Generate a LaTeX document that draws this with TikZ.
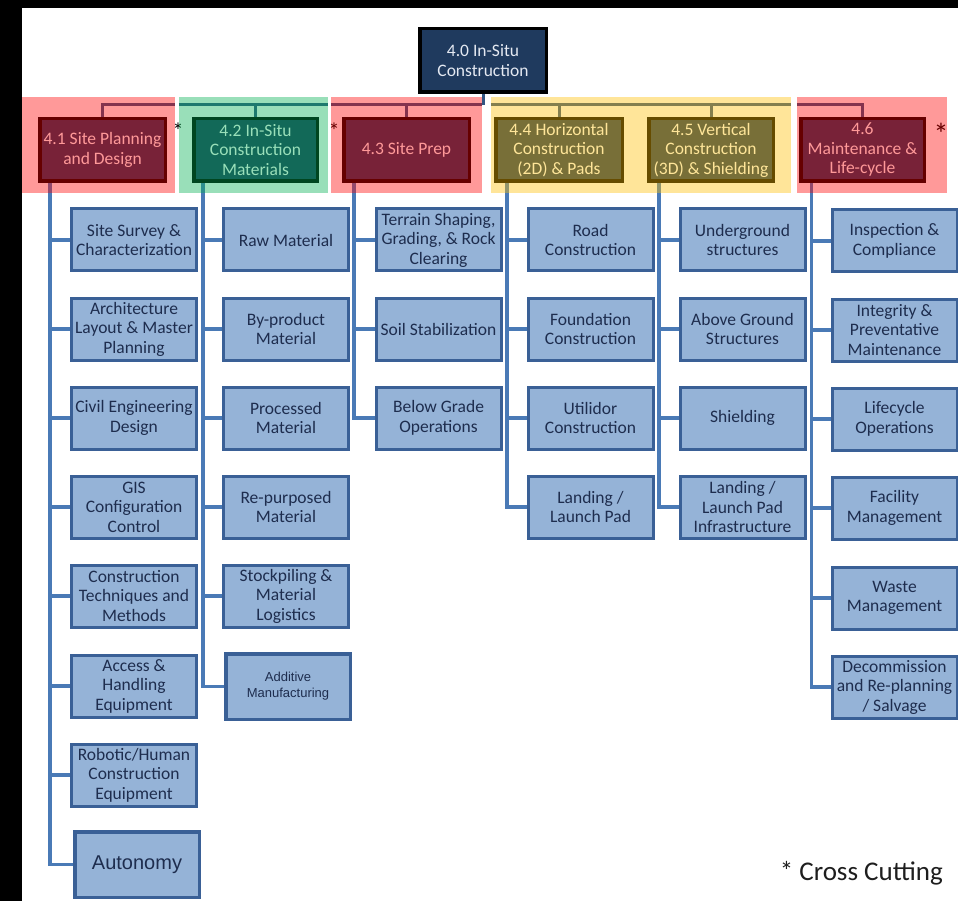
\documentclass[tikz,border=0pt]{standalone}
\usepackage{fontspec}
\setmainfont{Carlito}
\newfontfamily\arialf{Liberation Sans}
\pgfdeclarelayer{bg}
\pgfdeclarelayer{fg}
\pgfsetlayers{bg,main,fg}
\definecolor{boxf}{RGB}{149,179,215}
\definecolor{boxb}{RGB}{58,96,150}
\definecolor{boxt}{RGB}{30,45,78}
\definecolor{spinec}{RGB}{74,122,182}
\definecolor{topc}{RGB}{50,85,130}
\definecolor{navy}{RGB}{31,58,94}
\definecolor{roottext}{RGB}{228,233,242}
\definecolor{ovred}{RGB}{255,0,0}
\definecolor{ovgreen}{RGB}{0,176,80}
\definecolor{ovyellow}{RGB}{255,192,0}
\definecolor{cctext}{RGB}{30,30,30}
\tikzset{
  kid/.style={draw=boxb, fill=boxf, line width=3pt, minimum width=125pt, minimum height=62pt,
    inner sep=0pt, align=center, text=boxt, font=\fontsize{17.5}{19.5}\selectfont},
  lvl/.style={draw=black, fill=navy, line width=3.5pt, minimum height=62.5pt,
    inner sep=0pt, align=center, text=white, font=\fontsize{17.5}{19.5}\selectfont},
  spine/.style={draw=spinec, line width=3.5pt},
  topline/.style={draw=topc, line width=3pt},
  band/.style={draw=none, inner sep=0pt, fill opacity=0.4, minimum height=96pt},
  star/.style={inner sep=0pt, text=black, font=\fontsize{22}{24}\selectfont},
}
\begin{document}
\begin{tikzpicture}[x=1pt,y=-1pt]
\useasboundingbox (0,0) rectangle (958,901);
\begin{pgfonlayer}{bg}
\fill[black] (0,0) rectangle (958,901);
\fill[white] (22,8) rectangle (958,901);
\end{pgfonlayer}

% root
\node[lvl, text=roottext, minimum width=126.5pt, minimum height=63.5pt] (root) at (483,60.5) {4.0 In-Situ\\Construction};

% level 1
\node[lvl, minimum width=125.5pt] (n41) at (102.5,150) {4.1 Site Planning\\and Design};
\node[lvl, minimum width=123.5pt] (n42) at (255.5,150) {4.2 In-Situ\\Construction\\Materials};
\node[lvl, minimum width=125.5pt] (n43) at (406.5,150) {4.3 Site Prep};
\node[lvl, minimum width=126.5pt] (n44) at (559,150) {4.4 Horizontal\\Construction\\(2D) \& Pads};
\node[lvl, minimum width=124.5pt] (n45) at (711,150) {4.5 Vertical\\Construction\\(3D) \& Shielding};
\node[lvl, minimum width=123.5pt] (n46) at (862.5,150) {4.6\\Maintenance \&\\Life-cycle};

% asterisks
\node[star] (a1) at (178,131) {*};
\node[star] (a2) at (334,131) {*};
\node[star, font=\fontsize{30}{32}\selectfont] (a3) at (941,134) {*};

% overlay bands
\begin{pgfonlayer}{fg}
\node[band, fill=ovred, minimum width=153pt] (b1) at (98.5,145) {};
\node[band, fill=ovgreen, minimum width=149pt] (b2) at (253.5,145) {};
\node[band, fill=ovred, minimum width=151pt] (b3) at (406.5,145) {};
\node[band, fill=ovyellow, minimum width=300pt] (b4) at (641,145) {};
\node[band, fill=ovred, minimum width=150pt] (b6) at (872,145) {};
\end{pgfonlayer}

% column 1
\node[kid] (c11) at (134,240) {Site Survey \&\\Characterization};
\node[kid] (c12) at (134,329) {Architecture\\Layout \& Master\\Planning};
\node[kid] (c13) at (134,418) {Civil Engineering\\Design};
\node[kid] (c14) at (134,507) {GIS\\Configuration\\Control};
\node[kid] (c15) at (134,596) {Construction\\Techniques and\\Methods};
\node[kid] (c16) at (134,686) {Access \&\\Handling\\Equipment};
\node[kid] (c17) at (134,775) {Robotic/Human\\Construction\\Equipment};
\node[kid, line width=3.5pt, minimum width=124.5pt, minimum height=65.5pt, font=\arialf\fontsize{20}{24}\selectfont] (c18) at (137,864.5) {Autonomy};

% column 2
\node[kid] (c21) at (286,240) {Raw Material};
\node[kid] (c22) at (286,329) {By-product\\Material};
\node[kid] (c23) at (286,418) {Processed\\Material};
\node[kid] (c24) at (286,507) {Re-purposed\\Material};
\node[kid] (c25) at (286,596) {Stockpiling \&\\Material\\Logistics};
\node[kid, line width=3.5pt, minimum width=124.5pt, minimum height=65.5pt, font=\arialf\fontsize{13}{16}\selectfont] (c26) at (288,686.5) {Additive\\Manufacturing};

% column 3
\node[kid] (c31) at (438.5,240) {Terrain Shaping,\\Grading, \& Rock\\Clearing};
\node[kid] (c32) at (438.5,329) {Soil Stabilization};
\node[kid] (c33) at (438.5,418) {Below Grade\\Operations};

% column 4
\node[kid] (c41) at (590.5,240) {Road\\Construction};
\node[kid] (c42) at (590.5,329) {Foundation\\Construction};
\node[kid] (c43) at (590.5,418) {Utilidor\\Construction};
\node[kid] (c44) at (590.5,507) {Landing /\\Launch Pad};

% column 5
\node[kid] (c51) at (742.5,240) {Underground\\structures};
\node[kid] (c52) at (742.5,329) {Above Ground\\Structures};
\node[kid] (c53) at (742.5,418) {Shielding};
\node[kid] (c54) at (742.5,507) {Landing /\\Launch Pad\\Infrastructure};

% column 6
\node[kid] (c61) at (894.5,241) {Inspection \&\\Compliance};
\node[kid] (c62) at (894.5,330) {Integrity \&\\Preventative\\Maintenance};
\node[kid] (c63) at (894.5,419) {Lifecycle\\Operations};
\node[kid] (c64) at (894.5,508) {Facility\\Management};
\node[kid] (c65) at (894.5,598) {Waste\\Management};
\node[kid] (c66) at (894.5,687) {Decommission\\and Re-planning\\/ Salvage};

% legend
\node[anchor=east, inner sep=0pt, text=cctext, font=\fontsize{27}{32}\selectfont] (cc) at (943,873) {* Cross Cutting};

% connectors
\begin{pgfonlayer}{bg}
\coordinate (h) at (0,105);
\draw[topline] (root.south) -- (root.south |- h);
\draw[topline] (n41.north) |- (b1.east |- h);
\draw[topline] (b2.west |- h) -- (b2.east |- h);
\draw[topline] (n42.north) -- (n42.north |- h);
\draw[topline] (b3.west |- h) -- (b3.east |- h);
\draw[topline] (n43.north) -- (n43.north |- h);
\draw[topline] (b4.west |- h) -- (b4.east |- h);
\draw[topline] (n44.north) -- (n44.north |- h);
\draw[topline] (n45.north) -- (n45.north |- h);
\draw[topline] (b6.west |- h) -| (n46.north);

\coordinate (s1) at ([xshift=12pt]n41.south west);
\coordinate (s2) at ([xshift=11pt]n42.south west);
\coordinate (s3) at ([xshift=12pt]n43.south west);
\coordinate (s4) at ([xshift=13pt]n44.south west);
\coordinate (s5) at ([xshift=12pt]n45.south west);
\coordinate (s6) at ([xshift=12.5pt]n46.south west);
\foreach \i in {1,...,8} \draw[spine] (s1) |- (c1\i.west);
\foreach \i in {1,...,6} \draw[spine] (s2) |- (c2\i.west);
\foreach \i in {1,...,3} \draw[spine] (s3) |- (c3\i.west);
\foreach \i in {1,...,4} \draw[spine] (s4) |- (c4\i.west);
\foreach \i in {1,...,4} \draw[spine] (s5) |- (c5\i.west);
\foreach \i in {1,...,6} \draw[spine] (s6) |- (c6\i.west);
\end{pgfonlayer}
\end{tikzpicture}
\end{document}
